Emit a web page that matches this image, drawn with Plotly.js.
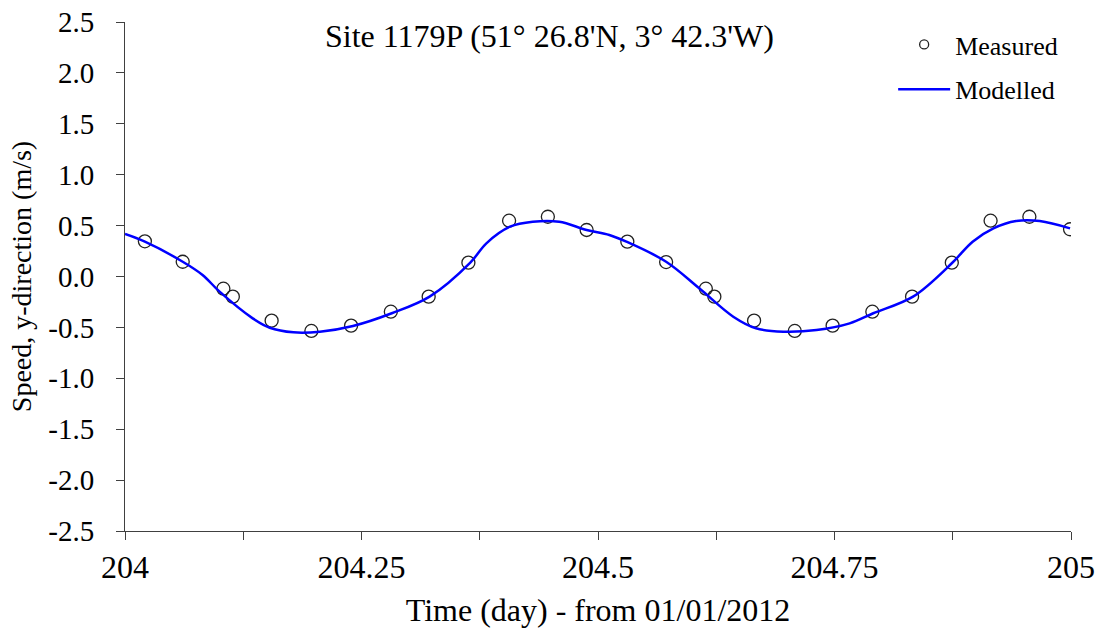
<!DOCTYPE html>
<html>
<head>
<meta charset="utf-8">
<script src="https://cdn.plot.ly/plotly-3.0.1.min.js"></script>
<style>html,body{margin:0;padding:0;background:#fff;}#chart{width:1101px;height:632px;}</style>
</head>
<body>
<div id="chart"></div>
<script>
// Measured data (time in days from 01/01/2012, speed in m/s)
const measuredTime = [204.021, 204.061, 204.104, 204.114, 204.155, 204.197, 204.239, 204.281, 204.321, 204.363, 204.406, 204.447, 204.488, 204.531, 204.572, 204.614, 204.623, 204.665, 204.708, 204.748, 204.790, 204.832, 204.874, 204.915, 204.956, 204.999];
const measuredSpeed = [0.346, 0.145, -0.120, -0.198, -0.434, -0.535, -0.483, -0.346, -0.198, 0.136, 0.548, 0.587, 0.457, 0.342, 0.142, -0.120, -0.198, -0.434, -0.535, -0.483, -0.346, -0.198, 0.136, 0.548, 0.587, 0.464];

// Modelled curve
const modelTime = [204.000, 204.021, 204.061, 204.082, 204.100, 204.135, 204.153, 204.178, 204.206, 204.241, 204.282, 204.322, 204.365, 204.382, 204.407, 204.431, 204.459, 204.488, 204.512, 204.530, 204.572, 204.607, 204.643, 204.667, 204.696, 204.731, 204.766, 204.791, 204.833, 204.874, 204.896, 204.918, 204.942, 204.967, 204.999];
const modelSpeed = [0.417, 0.342, 0.145, 0.015, -0.149, -0.411, -0.503, -0.548, -0.542, -0.486, -0.361, -0.198, 0.136, 0.326, 0.489, 0.538, 0.538, 0.457, 0.408, 0.342, 0.145, -0.116, -0.395, -0.509, -0.542, -0.526, -0.460, -0.361, -0.198, 0.130, 0.342, 0.473, 0.545, 0.545, 0.473];

// Tick labels
const xTickVals = [204, 204.125, 204.25, 204.375, 204.5, 204.625, 204.75, 204.875, 205];
const xTickText = ["204", "", "204.25", "", "204.5", "", "204.75", "", "205"];
const yTickVals = [2.5, 2.0, 1.5, 1.0, 0.5, 0.0, -0.5, -1.0, -1.5, -2.0, -2.5];
const yTickText = ["2.5", "2.0", "1.5", "1.0", "0.5", "0.0", "-0.5", "-1.0", "-1.5", "-2.0", "-2.5"];

const FONT = "'Liberation Serif', 'Times New Roman', serif";

const traces = [
  {
    x: measuredTime, y: measuredSpeed, type: 'scatter', mode: 'markers', name: 'Measured',
    showlegend: false,
    marker: {symbol: 'circle-open', size: 13, color: '#222', line: {width: 1.3, color: '#222'}}
  },
  {
    x: modelTime, y: modelSpeed, type: 'scatter', mode: 'lines', name: 'Modelled',
    showlegend: false,
    line: {color: '#0000FF', width: 2.5, shape: 'spline', smoothing: 1}
  },
  {
    x: [null], y: [null], type: 'scatter', mode: 'markers', name: 'Measured', legendgroup: 'a',
    marker: {symbol: 'circle-open', size: 9, color: '#222', line: {width: 1.3, color: '#222'}}
  },
  {
    x: [null], y: [null], type: 'scatter', mode: 'lines', name: 'Modelled', legendgroup: 'b',
    line: {color: '#0000FF', width: 2.5}
  }
];

const layout = {
  width: 1101, height: 632,
  margin: {l: 125, r: 30, t: 22, b: 101},
  paper_bgcolor: '#fff', plot_bgcolor: '#fff',
  font: {family: FONT, color: '#000', size: 26},
  showlegend: true,
  legend: {x: 0.812, xanchor: 'left', y: 1.002, yanchor: 'top', font: {family: FONT, size: 26, color: '#000'},
           bgcolor: 'rgba(0,0,0,0)', traceorder: 'grouped', tracegroupgap: 8, itemwidth: 52},
  annotations: [{
    text: "Site 1179P (51° 26.8'N, 3° 42.3'W)", xref: 'paper', yref: 'paper',
    x: 0.449, y: 1.012, xanchor: 'center', yanchor: 'top', showarrow: false,
    font: {family: FONT, size: 32, color: '#000'}
  }],
  xaxis: {
    range: [204, 205], tickmode: 'array', tickvals: xTickVals, ticktext: xTickText,
    ticks: 'outside', ticklen: 8, tickwidth: 1, tickcolor: '#404040',
    showline: true, linecolor: '#404040', linewidth: 1, showgrid: false, zeroline: false,
    tickfont: {family: FONT, size: 32, color: '#000'}, ticklabelstandoff: 0,
    title: {text: 'Time (day) - from 01/01/2012', font: {family: FONT, size: 32, color: '#000'}, standoff: 14}
  },
  yaxis: {
    range: [-2.5, 2.5], tickmode: 'array', tickvals: yTickVals, ticktext: yTickText,
    ticks: 'outside', ticklen: 8, tickwidth: 1, tickcolor: '#404040',
    showline: true, linecolor: '#404040', linewidth: 1, showgrid: false, zeroline: false,
    tickfont: {family: FONT, size: 29, color: '#000'}, ticklabelstandoff: 16,
    title: {text: 'Speed, y-direction (m/s)', font: {family: FONT, size: 28, color: '#000'}, standoff: 8}
  }
};

Plotly.newPlot('chart', traces, layout, {displayModeBar: false, staticPlot: true});
</script>
</body>
</html>
